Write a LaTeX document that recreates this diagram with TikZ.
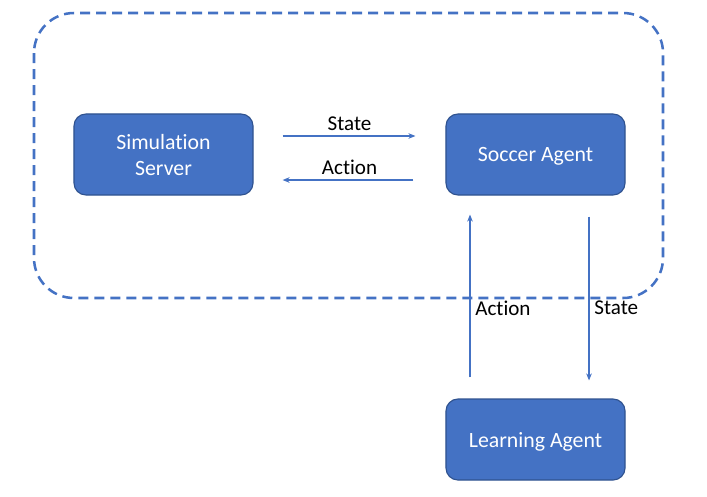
\documentclass[tikz,border=0pt]{standalone}
\usepackage{fontspec}
\setmainfont{Carlito}[Ligatures=NoCommon]
\usepackage{tikz}
\usetikzlibrary{calc,positioning,arrows.meta}
\usepackage{xcolor}
\definecolor{myblue}{RGB}{68,114,196}
\definecolor{mydarkblue}{RGB}{47,82,143}

\begin{document}
\begin{tikzpicture}[x=0.025cm, y=-0.025cm,
    agentbox/.style={draw=mydarkblue, line width=0.8pt, fill=myblue, text=white, rectangle, rounded corners=0.3cm, minimum width=4.475cm, minimum height=2.025cm, align=center, text depth=0pt, font=\fontsize{15.5}{18.5}\selectfont},
    msg/.style={draw=myblue, line width=0.9pt, -{Stealth[length=5pt, width=4pt]}},
    msglabel/.style={font=\fontsize{15}{18}\selectfont, text=black}]
  \useasboundingbox (0,0) rectangle (707,496);

  % Environment
  \draw[myblue, line width=1.8pt, dash pattern=on 0.25cm off 0.15cm, rounded corners=1cm] (34,13) rectangle (663,298);

  \node[agentbox] (sim) at (163.5,154.5) {Simulation\\Server};
  \node[agentbox] (soccer) at (535.5,154.5) {Soccer Agent};
  \node[agentbox] (learner) at (535.5,439.5) {Learning Agent};

  \draw[msg, shorten <=0.725cm, shorten >=0.75cm] ([yshift=0.4625cm]sim.east) -- ([yshift=0.4625cm]soccer.west) node[midway,above=0pt,msglabel]{State};
  \draw[msg, shorten <=0.8cm, shorten >=0.725cm] ([yshift=-0.6375cm]soccer.west) -- ([yshift=-0.6375cm]sim.east) node[midway,above=0pt,msglabel]{Action};

  \draw[msg, shorten <=0.525cm, shorten >=0.475cm] ([xshift=-1.6375cm]learner.north) -- ([xshift=-1.6375cm]soccer.south) node[pos=0.446,right,msglabel]{Action};
  \draw[msg, shorten <=0.525cm, shorten >=0.45cm] ([xshift=1.3375cm]soccer.south) -- ([xshift=1.3375cm]learner.north) node[pos=0.554,right,msglabel]{State};
\end{tikzpicture}
\end{document}
